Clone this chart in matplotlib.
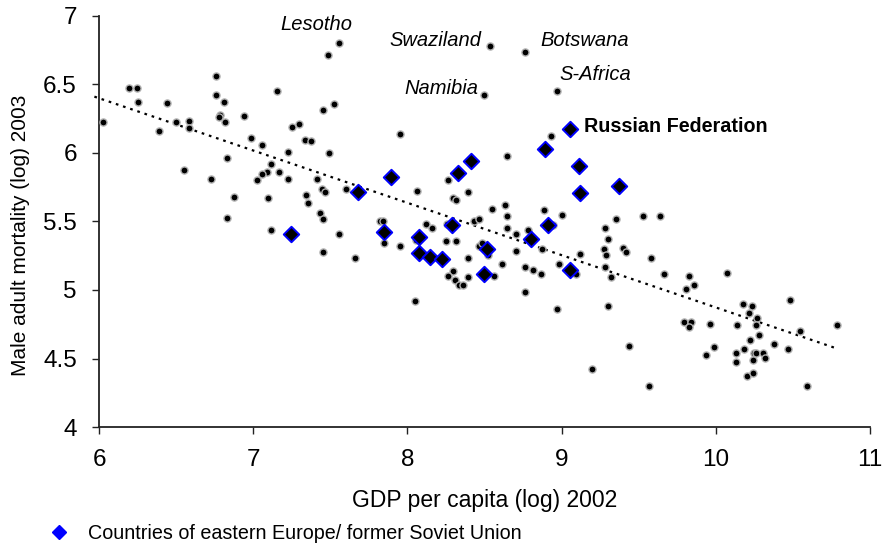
import matplotlib.pyplot as plt
from matplotlib.lines import Line2D

plt.rcParams['font.family'] = ['Liberation Sans', 'DejaVu Sans']

# log GDP per capita 2002 / log male adult mortality 2003, all other countries
gdp = [6.026, 6.194, 6.246, 6.255, 6.391, 6.442, 6.500, 6.582, 6.582, 6.550,
       6.759, 6.759, 6.809, 6.787, 6.776, 6.820, 6.938, 7.156, 7.255, 7.296,
       6.986, 7.058, 7.227, 6.830, 6.729, 7.114, 7.087, 7.058, 7.026, 7.166,
       7.227, 6.878, 7.096, 6.830, 7.116, 7.345, 7.355, 7.446, 7.466, 7.433,
       7.455, 7.554, 7.455, 7.662, 7.602, 7.824, 7.840, 7.850, 7.415, 7.483,
       7.454, 7.525, 7.336, 7.376, 7.493, 7.951, 8.266, 8.395, 8.060, 8.296,
       8.318, 8.552, 8.122, 8.157, 8.435, 8.466, 8.255, 7.951, 8.058, 8.249,
       8.318, 8.466, 8.487, 8.526, 8.395, 8.561, 8.298, 8.266, 8.308, 8.336,
       8.358, 8.395, 8.050, 8.634, 8.647, 8.645, 8.705, 8.705, 8.616, 8.762,
       8.814, 8.864, 8.763, 8.783, 8.885, 9.002, 8.945, 8.872, 8.984, 9.092,
       9.119, 8.972, 9.279, 9.300, 9.278, 9.290, 9.281, 9.320, 9.351, 9.399,
       9.417, 9.528, 9.637, 9.578, 9.667, 9.299, 9.438, 9.200, 9.567, 8.932,
       8.645, 9.826, 9.861, 9.805, 9.795, 9.842, 9.826, 10.073, 9.965, 9.986,
       9.936, 10.174, 10.235, 10.214, 10.271, 10.141, 10.260, 10.283, 10.224, 10.183,
       10.132, 10.132, 10.246, 10.262, 10.310, 10.243, 10.321, 10.201, 10.243, 10.381,
       10.471, 10.481, 10.550, 10.788, 10.590]
mort = [6.226, 6.474, 6.474, 6.369, 6.161, 6.367, 6.226, 6.236, 6.180, 5.876,
        6.562, 6.423, 6.374, 6.280, 6.265, 6.226, 6.268, 6.453, 6.192, 6.214,
        6.106, 6.061, 6.007, 5.966, 5.812, 5.920, 5.858, 5.843, 5.801, 5.858,
        5.812, 5.681, 5.672, 5.528, 5.440, 5.691, 5.635, 5.735, 5.713, 5.560,
        5.518, 5.409, 5.277, 5.234, 5.735, 5.506, 5.506, 5.343, 5.812, 6.717,
        6.312, 6.358, 6.095, 6.086, 5.998, 6.139, 5.801, 5.713, 5.723, 5.669,
        5.657, 5.593, 5.484, 5.456, 5.506, 5.517, 5.484, 5.321, 5.367, 5.354,
        5.354, 5.323, 5.343, 5.255, 5.234, 5.102, 5.139, 5.102, 5.071, 5.038,
        5.038, 5.093, 4.918, 5.617, 5.539, 5.450, 5.409, 5.288, 5.191, 5.168,
        5.147, 5.115, 4.983, 5.440, 5.582, 5.550, 5.471, 5.298, 5.190, 5.115,
        5.265, 4.863, 5.450, 5.374, 5.298, 5.253, 5.168, 5.093, 5.517, 5.310,
        5.277, 5.539, 5.539, 5.234, 5.115, 4.885, 4.591, 4.426, 4.297, 6.126,
        5.976, 5.102, 5.040, 5.005, 4.766, 4.766, 4.732, 5.126, 4.754, 4.582,
        4.526, 4.896, 4.885, 4.830, 4.798, 4.743, 4.743, 4.669, 4.635, 4.569,
        4.538, 4.471, 4.538, 4.538, 4.538, 4.491, 4.504, 4.374, 4.394, 4.604,
        4.569, 4.929, 4.701, 4.745, 4.297]

# countries of eastern Europe / former Soviet Union
ee_gdp = [7.243, 7.682, 7.850, 7.891, 8.411, 8.327, 8.288, 8.078, 8.078, 8.149,
          8.228, 8.515, 8.495, 8.803, 8.913, 9.052, 9.053, 8.893, 9.111, 9.122,
          9.370]
ee_mort = [5.409, 5.712, 5.420, 5.825, 5.940, 5.854, 5.473, 5.385, 5.268, 5.243,
           5.223, 5.299, 5.115, 5.374, 5.474, 5.148, 6.173, 6.028, 5.907, 5.708,
           5.757]

# named outliers
out_names = ['Lesotho', 'Swaziland', 'Botswana', 'Namibia', 'S-Africa']
out_gdp = [7.554, 8.534, 8.762, 8.497, 8.971]
out_mort = [6.803, 6.783, 6.737, 6.421, 6.454]
russia_idx = 16

# linear trend
trend_x = [5.97, 10.79]
trend_a, trend_b = 8.690, -0.3817

fig = plt.figure(figsize=(8.84, 5.43), dpi=100)
ax = fig.add_axes([0.112, 0.2136, 0.872, 0.757])

dot = dict(marker='o', s=26, c='black', edgecolors='#b0b0b0', linewidths=1.0, zorder=3)
ax.scatter(gdp, mort, **dot)
ax.scatter(out_gdp, out_mort, **dot)
ax.scatter(ee_gdp, ee_mort, marker='D', s=62, c='black', edgecolors='#0000ff',
           linewidths=1.4, zorder=4)

ax.plot(trend_x, [trend_a + trend_b * x for x in trend_x], color='black',
        lw=1.6, linestyle=(0, (1.2, 2.2)), zorder=2, clip_on=False)

# label offsets (points) from each marked country
offsets = {'Lesotho': (-42, 13, 'left'), 'Swaziland': (-6, 4, 'right'),
           'Botswana': (11, 8, 'left'), 'Namibia': (-4, 5, 'right'),
           'S-Africa': (2, 12, 'left')}
for name, x, y in zip(out_names, out_gdp, out_mort):
    dx, dy, ha = offsets[name]
    ax.annotate(name, (x, y), xytext=(dx, dy), textcoords='offset points',
                ha=ha, va='center', fontsize=14.5, style='italic')
ax.annotate('Russian Federation', (ee_gdp[russia_idx], ee_mort[russia_idx]),
            xytext=(10, 2), textcoords='offset points', ha='left', va='center',
            fontsize=14.2, fontweight='bold')

ax.set_xlim(6, 11)
ax.set_ylim(4, 7)
ax.set_xticks([6, 7, 8, 9, 10, 11])
ax.set_yticks([4, 4.5, 5, 5.5, 6, 6.5, 7])
ax.set_yticklabels(['4', '4.5', '5', '5.5', '6', '6.5', '7'])
for s in ['top', 'right']:
    ax.spines[s].set_visible(False)
for s in ['left', 'bottom']:
    ax.spines[s].set_color('#222222')
    ax.spines[s].set_linewidth(1.3)
ax.tick_params(axis='both', direction='out', length=5, width=1.0, color='#222222',
               labelsize=17.5)
ax.tick_params(axis='y', pad=11)
ax.tick_params(axis='x', pad=11)

ax.set_xlabel('GDP per capita (log) 2002', fontsize=16.5, labelpad=13)
ax.set_ylabel('Male adult mortality (log) 2003', fontsize=15)
ax.yaxis.set_label_coords(-0.089, 0.466)

handle = Line2D([], [], marker='D', color='none', markerfacecolor='#0000ff',
                markeredgecolor='#0000ff', markersize=7)
fig.legend([handle], ['Countries of eastern Europe/ former Soviet Union'],
           loc='center left', bbox_to_anchor=(0.035, 0.018), frameon=False,
           fontsize=14.2, handletextpad=0.5, borderaxespad=0)

fig.savefig('out.png', dpi=100)
